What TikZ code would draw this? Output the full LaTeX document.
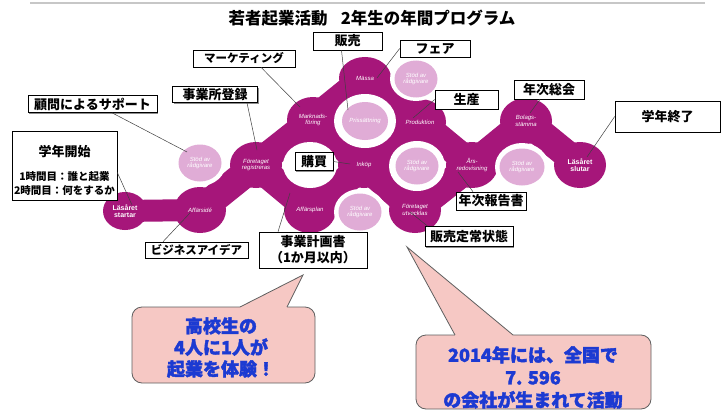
\documentclass[tikz,border=0pt]{standalone}
\usepackage{fontspec}
\setmainfont{Liberation Sans}
\newfontfamily\cjk{Noto Sans CJK JP}
\newfontfamily\cjkpop{Noto Sans CJK JP}[BoldFeatures={FakeBold=2}]
\newfontfamily\lat{Liberation Sans}
\usetikzlibrary{calc,shadows,shapes.geometric}
\definecolor{mag}{RGB}{166,22,122}
\definecolor{lite}{RGB}{224,172,214}
\definecolor{bfill}{RGB}{246,200,196}
\definecolor{bline}{RGB}{95,95,95}
\definecolor{pop}{RGB}{28,58,210}
\tikzset{
  neck/.style={draw=mag, line width=28pt},
  lobe/.style={ellipse, fill=mag, minimum width=52pt, minimum height=46pt, inner sep=0pt,
    text=white, font=\lat\itshape\fontsize{6}{6.6}\selectfont, align=center},
  endlobe/.style={lobe, font=\lat\bfseries\fontsize{7}{7.6}\selectfont},
  litenode/.style={ellipse, fill=lite, minimum width=43pt, minimum height=37pt, inner sep=0pt,
    text=white, font=\lat\itshape\fontsize{6}{6.6}\selectfont, align=center},
  carve/.style={fill=white},
  conn/.style={draw=black!75, line width=0.5pt},
  lab/.style={draw=black, line width=0.6pt, fill=white, inner sep=0pt, align=center,
    font=\cjk\bfseries\fontsize{13}{16}\selectfont,
    drop shadow={shadow xshift=1.2pt, shadow yshift=-1.2pt, fill=black!45, opacity=1}},
  bal/.style={fill=bfill, draw=bline, line width=0.8pt, rounded corners=10pt},
  baltext/.style={font=\cjkpop\bfseries\fontsize{18}{21.5}\selectfont, text=pop, align=center}
}
\begin{document}
\begin{tikzpicture}[x=1pt,y=-1pt]
\useasboundingbox (0,0) rectangle (728,412);
\fill[white] (0,0) rectangle (728,412);
\draw[black!22, line width=1.6pt] (30,3) -- (705,3);
\node[font=\cjk\bfseries\fontsize{16.5}{18}\selectfont] (title) at (372,18) {若者起業活動\hspace{0.8em}2年生の年間プログラム};

% lobe centres
\coordinate (cLS) at (125,211);
\coordinate (cAI) at (200,210);
\coordinate (cFR) at (256,165);
\coordinate (cAP) at (310,210);
\coordinate (cMF) at (313,120);
\coordinate (cMA) at (365,78);
\coordinate (cPR) at (420,122);
\coordinate (cIN) at (364,165);
\coordinate (cFU) at (415,210);
\coordinate (cAR) at (472,165);
\coordinate (cBS) at (526,121);
\coordinate (cLE) at (580,165);

% necks
\draw[neck, line width=22pt] (cLS) -- (cAI);
\draw[neck] (cAI) -- (cFR);
\draw[neck] (cFR) -- (cAP);
\draw[neck] (cFR) -- (cMF);
\draw[neck] (cMF) -- (cMA);
\draw[neck] (cMF) -- (cIN);
\draw[neck] (cMA) -- (cPR);
\draw[neck] (cPR) -- (cIN);
\draw[neck] (cIN) -- (cAP);
\draw[neck] (cIN) -- (cFU);
\draw[neck] (cPR) -- (cAR);
\draw[neck] (cFU) -- (cAR);
\draw[neck] (cAR) -- (cBS);
\draw[neck] (cBS) -- (cLE);
\fill[mag] (cMF) -- (cMA) -- (cPR) -- (cIN) -- cycle;

% lobes
\node[endlobe, minimum width=44pt, minimum height=38pt] (LS) at (cLS) {Läsåret\\startar};
\node[lobe] (AI) at (cAI) {Affärsidé};
\node[lobe] (FR) at (cFR) {Företaget\\registreras};
\node[lobe] (AP) at (cAP) {Affärsplan};
\node[lobe] (MF) at (cMF) {Marknads-\\föring};
\node[lobe, minimum height=42pt] (MA) at (cMA) {Mässa};
\node[lobe] (PR) at (cPR) {Produktion};
\node[lobe] (IN) at (cIN) {Inköp};
\node[lobe] (FU) at (cFU) {Företaget\\utvecklas};
\node[lobe] (AR) at (cAR) {Års-\\redovisning};
\node[lobe] (BS) at (cBS) {Bolags-\\stämma};
\node[endlobe] (LE) at (cLE) {Läsåret\\slutar};

% white holes
\fill[carve] (310,165) ellipse [x radius=27pt, y radius=23pt];
\fill[carve] (365,121) ellipse [x radius=31pt, y radius=27pt];
\fill[carve] (200,163) ellipse [x radius=26pt, y radius=23pt];
\fill[carve] (416,79) ellipse [x radius=26pt, y radius=22pt];
\fill[carve] (417,166) ellipse [x radius=28pt, y radius=25pt];
\fill[carve] (360,212) ellipse [x radius=26pt, y radius=23pt];
\fill[carve] (522,167) ellipse [x radius=27pt, y radius=24pt];

% light circles
\node[litenode, minimum width=46pt, minimum height=38pt] (PS) at (365,121) {Prissättning};
\node[litenode] (S1) at (200,163) {Stöd av\\rådgivare};
\node[litenode] (S2) at (416,79) {Stöd av\\rådgivare};
\node[litenode] (S3) at (417,166) {Stöd av\\rådgivare};
\node[litenode] (S4) at (360,212) {Stöd av\\rådgivare};
\node[litenode, minimum width=45pt] (S5) at (522,167) {Stöd av\\rådgivare};

% label boxes
\node[lab, minimum width=69pt, minimum height=18pt] (hanbai) at (347.5,41) {販売};
\node[lab, minimum width=70pt, minimum height=17pt] (fair) at (435,48.5) {フェア};
\node[lab, minimum width=102pt, minimum height=17pt, font=\cjk\bfseries\fontsize{11.5}{14}\selectfont] (mkt) at (244,58.5) {マーケティング};
\node[lab, minimum width=129pt, minimum height=17pt] (komon) at (92.5,104) {顧問によるサポート};
\node[lab, minimum width=85pt, minimum height=16pt] (jigyosho) at (215,94.5) {事業所登録};
\node[lab, minimum width=105pt, minimum height=69pt] (kaishi) at (64.5,165.5) {};
\node[font=\cjk\bfseries\fontsize{13}{15}\selectfont] (kaishiT) at (64.5,152) {学年開始};
\node[font=\cjk\bfseries\fontsize{10.5}{12}\selectfont] (kaishiA) at (64.5,177) {1時間目：誰と起業};
\node[font=\cjk\bfseries\fontsize{10.5}{12}\selectfont] (kaishiB) at (64.5,191) {2時間目：何をするか};
\node[lab, minimum width=38pt, minimum height=18pt] (kobai) at (314,161.5) {購買};
\node[lab, minimum width=63pt, minimum height=19pt] (seisan) at (466.5,99.5) {生産};
\node[lab, minimum width=70pt, minimum height=19pt] (soukai) at (549,89.5) {年次総会};
\node[lab, minimum width=105pt, minimum height=31pt] (shuryo) at (667.5,116.5) {学年終了};
\node[lab, minimum width=70pt, minimum height=18pt] (hokoku) at (491,201) {年次報告書};
\node[lab, minimum width=103pt, minimum height=16pt, font=\cjk\bfseries\fontsize{11.5}{14}\selectfont] (biz) at (196.5,250) {ビジネスアイデア};
\node[lab, minimum width=108pt, minimum height=36pt] (keikaku) at (313,250) {事業計画書\\（1か月以内）};
\node[lab, minimum width=88pt, minimum height=20pt] (teijo) at (469,236.5) {販売定常状態};

% connector ends
\coordinate (eKomon) at (187,152);
\coordinate (eJig) at (257,150);
\coordinate (eKai) at (132,205);
\coordinate (eMkt) at (300,107);
\coordinate (eHan) at (348,110);
\coordinate (eFair) at (377,78);
\coordinate (eSei) at (413,118);
\coordinate (eKob) at (350,164);
\coordinate (eSou) at (530,113);
\coordinate (eShu) at (587,157);
\coordinate (eHok) at (458,172);
\coordinate (eBiz) at (190,213);
\coordinate (eKei) at (290,193);
\coordinate (eTei) at (410,212);

% connectors
\draw[conn] ($(komon.south)+(19.5,0)$) -- (eKomon);
\draw[conn] ($(jigyosho.south)+(32,0)$) -- (eJig);
\draw[conn] ($(kaishi.east)+(0,7)$) -- (eKai);
\draw[conn] ($(mkt.south)+(17,0)$) -- (eMkt);
\draw[conn] ($(hanbai.south)+(-6,0)$) -- (eHan);
\draw[conn] (fair.west) -- (eFair);
\draw[conn] (seisan.west) -- (eSei);
\draw[conn] (kobai.east) -- (eKob);
\draw[conn] ($(soukai.south)+(-9,0)$) -- (eSou);
\draw[conn] (shuryo.west) -- (eShu);
\draw[conn] ($(hokoku.north)+(-18,0)$) -- (eHok);
\draw[conn] ($(biz.north)+(-33.5,0)$) -- (eBiz);
\draw[conn] ($(keikaku.north)+(-35,0)$) -- (eKei);
\draw[conn] ($(teijo.north west)+(3,0)$) -- (eTei);

% balloon 1
\draw[bal] (132,307) rectangle (315,383);
\fill[bfill] (240,307) -- (303,275) -- (287,307) -- (287,309.5) -- (240,309.5) -- cycle;
\draw[draw=bline, line width=0.8pt] (240,307) -- (303,275) -- (287,307);
\node[baltext] (b1) at (221,347.5) {高校生の\\4人に1人が\\起業を体験！};

% balloon 2
\draw[bal] (416,335) rectangle (651,409);
\fill[bfill] (455,335) -- (407,247) -- (513,335) -- (513,337.5) -- (455,337.5) -- cycle;
\draw[draw=bline, line width=0.8pt] (455,335) -- (407,247) -- (513,335);
\node[baltext, font=\cjkpop\bfseries\fontsize{18}{22.5}\selectfont] (b2) at (533,377.5) {2014年には、全国で\\7. 596\\の会社が生まれて活動};
\end{tikzpicture}
\end{document}
